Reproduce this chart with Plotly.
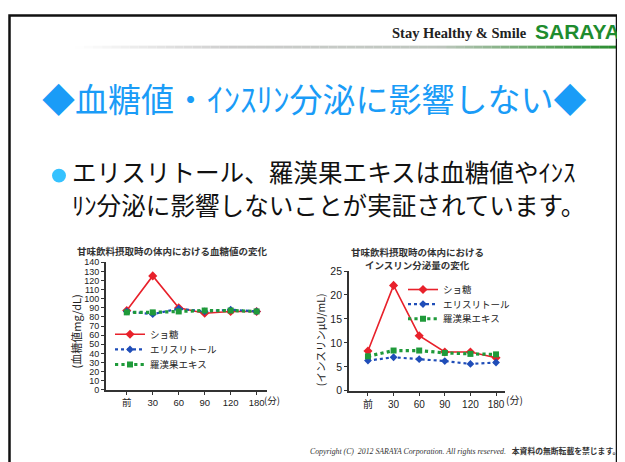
import plotly.graph_objects as go

# The page body has an 8px margin, so the figure is drawn 8px in from the corner.
OX, OY = 8, 8
W, H = 625 - OX, 462 - OY

# ---------------- data ----------------
categories = ["前", "30", "60", "90", "120", "180"]
series_names = ["ショ糖", "エリスリトール", "羅漢果エキス"]

glucose_sucrose = [87, 125, 90, 84, 86, 86]
glucose_erythritol = [86, 83, 89, 86, 88, 86]
glucose_luohanguo = [85, 85, 86, 87, 87, 86]

insulin_sucrose = [8.3, 22.0, 11.5, 8.1, 8.1, 6.9]
insulin_erythritol = [6.3, 7.0, 6.6, 6.2, 5.6, 5.9]
insulin_luohanguo = [7.2, 8.4, 8.4, 7.9, 7.7, 7.6]

glucose_ticks = list(range(0, 141, 10))
insulin_ticks = [0, 5, 10, 15, 20, 25]

# ---------------- helpers ----------------
def px(x):
    return (x - OX) / W

def py(y):
    return 1 - (y - OY) / H

xpos = list(range(len(categories)))

RED = "#E8212B"
BLUE = "#1F4DB8"
GREEN = "#1F9A3A"
AX = "#333333"
CJK = "Noto Sans CJK JP"
NUMF = "Liberation Sans, Noto Sans CJK JP"

styles = [
    dict(color=RED, dash="solid", width=1.6, symbol="diamond", msize=7),
    dict(color=BLUE, dash="dot", width=2.2, symbol="diamond", msize=6),
    dict(color=GREEN, dash="dot", width=3.2, symbol="square", msize=6),
]

fig = go.Figure()

glucose = [glucose_sucrose, glucose_erythritol, glucose_luohanguo]
insulin = [insulin_sucrose, insulin_erythritol, insulin_luohanguo]

# one legend per entry so the entries can sit as tightly as in the reference
legend_pos_1 = [337, 352.5, 368]   # y centres of chart-1 legend entries
legend_pos_2 = [291, 306, 321]     # y centres of chart-2 legend entries
legend_layout = {}
lid = 0
for (xa, ya, vals_list, lx, ly_list) in [("x", "y", glucose, 110, legend_pos_1),
                                         ("x2", "y2", insulin, 403, legend_pos_2)]:
    for name, vals, st, ly in zip(series_names, vals_list, styles, ly_list):
        lid += 1
        key = "legend" if lid == 1 else "legend%d" % lid
        fig.add_trace(go.Scatter(
            x=xpos, y=vals, name=name, mode="lines+markers",
            line=dict(color=st["color"], dash=st["dash"], width=st["width"]),
            marker=dict(color=st["color"], symbol=st["symbol"], size=st["msize"]),
            xaxis=xa, yaxis=ya, legend=key, cliponaxis=False, showlegend=True,
        ))
        legend_layout[key] = dict(x=px(lx), y=py(ly), xanchor="left", yanchor="middle",
                                  bgcolor="rgba(0,0,0,0)",
                                  font=dict(family=CJK, size=9.5, color="#222"),
                                  itemwidth=30)

axis_common = dict(showline=True, linecolor=AX, linewidth=1.8, showgrid=False,
                   zeroline=False, ticks="outside", ticklen=3, tickwidth=1,
                   tickcolor=AX)

fig.update_layout(
    width=W, height=H,
    margin=dict(l=0, r=0, t=0, b=0),
    paper_bgcolor="white", plot_bgcolor="white",
    xaxis=dict(domain=[px(106), px(267)], range=[-0.8, 5.4],
               tickvals=xpos, ticktext=categories,
               tickfont=dict(family=NUMF, size=9.5, color="#222"),
               anchor="y", **axis_common),
    yaxis=dict(domain=[py(394), py(263)], range=[0, 140],
               tickvals=glucose_ticks,
               tickfont=dict(family=NUMF, size=9, color="#222"),
               anchor="x", **axis_common),
    xaxis2=dict(domain=[px(349), px(505)], range=[-0.74, 5.35],
                tickvals=xpos, ticktext=categories,
                tickfont=dict(family=NUMF, size=10, color="#222"),
                anchor="y2", **axis_common),
    yaxis2=dict(domain=[py(395), py(272)], range=[0, 25],
                tickvals=insulin_ticks,
                tickfont=dict(family=NUMF, size=10.5, color="#222"),
                anchor="x2", **axis_common),
    showlegend=True,
    **legend_layout,
)

shapes = []
# slide border
shapes.append(dict(type="rect", xref="paper", yref="paper",
                   x0=px(9.5), x1=px(617), y0=py(480), y1=py(9.5),
                   line=dict(color="#111", width=2.5)))
# header gradient line (decoration)
def lerp(c1, c2, t):
    return tuple(int(round(a + (b - a) * t)) for a, b in zip(c1, c2))

stops = [(75, (255, 255, 255)), (230, (205, 205, 205)), (440, (190, 198, 190)),
         (540, (100, 165, 100)), (618, (40, 140, 45))]
nseg = 60
x_start, x_end = 75, 618
for i in range(nseg):
    xa = x_start + (x_end - x_start) * i / nseg
    xb = x_start + (x_end - x_start) * (i + 1) / nseg
    xm = (xa + xb) / 2
    for j in range(len(stops) - 1):
        if stops[j][0] <= xm <= stops[j + 1][0]:
            t = (xm - stops[j][0]) / (stops[j + 1][0] - stops[j][0])
            c = lerp(stops[j][1], stops[j + 1][1], t)
            break
    shapes.append(dict(type="rect", xref="paper", yref="paper",
                       x0=px(xa), x1=px(xb), y0=py(43.5), y1=py(40.5),
                       fillcolor="rgb(%d,%d,%d)" % c, line=dict(width=0), layer="below"))
# bullet
shapes.append(dict(type="circle", xref="paper", yref="paper",
                   x0=px(52), x1=px(66), y0=py(181), y1=py(167),
                   fillcolor="#35C2FF", line=dict(width=0)))
fig.update_layout(shapes=shapes)

ann = []
def A(text, x, y, size, color="#222", family=CJK, xanchor="center", yanchor="middle", angle=0):
    ann.append(dict(text=text, x=px(x), y=py(y), xref="paper", yref="paper",
                    showarrow=False, xanchor=xanchor, yanchor=yanchor, textangle=angle,
                    font=dict(family=family, size=size, color=color)))

A("<b>Stay Healthy &amp; Smile</b>", 390, 27.5, 14.5, "#222", "Liberation Serif", xanchor="left")
A("<b>SARAYA</b>", 533, 26, 21, "#1E8C2E", "Liberation Sans", xanchor="left")
A("◆血糖値・ｲﾝｽﾘﾝ分泌に影響しない◆", 314, 94, 33, "#1A9CF7")
A("エリスリトール、羅漢果エキスは血糖値やｲﾝｽ", 70, 169.5, 24.6, "#111", xanchor="left")
A("ﾘﾝ分泌に影響しないことが実証されています。", 70, 203, 24.6, "#111", xanchor="left")

A("<b>甘味飲料摂取時の体内における血糖値の変化</b>", 172, 251.5, 9.5, "#333")
A("<b>甘味飲料摂取時の体内における</b>", 417, 252.5, 9.5, "#333")
A("<b>インスリン分泌量の変化</b>", 417, 265.5, 9.5, "#333")
A("(血糖値mg/dL)", 76, 334, 11, "#222", angle=-90)
A("(インスリンμU/mL)", 320, 342, 10.5, "#222", angle=-90)
A("(分)", 272, 404, 9.5, "#222")
A("(分)", 514, 404, 10, "#222")

A("<i>Copyright (C)  2012 SARAYA Corporation. All rights reserved.</i>   <b>本資料の無断転載を禁じます。</b>",
  622, 457, 7.8, "#333", "Liberation Serif, Noto Sans CJK JP", xanchor="right")

fig.update_layout(annotations=ann)

fig.write_html("out.html")
